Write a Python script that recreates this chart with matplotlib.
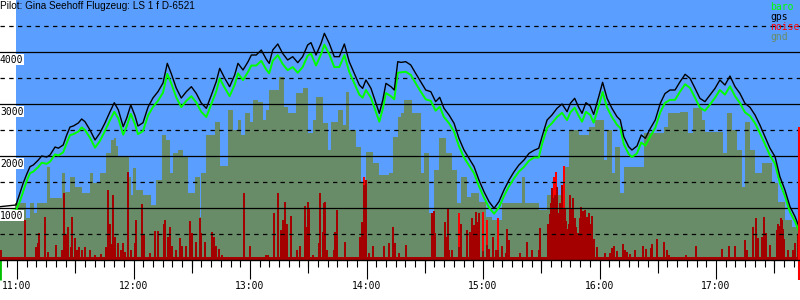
import matplotlib.pyplot as plt

# ---------- DATA (time = minutes after 11:00, altitude in ft) ----------
gps_t = [-8.8, -0.5, 1.5, 3.2, 5.0, 6.7, 8.4, 11.0, 12.7, 15.3,
         17.0, 19.6, 21.3, 23.8, 25.6, 27.3, 29.0, 31.6, 33.3, 35.0,
         37.6, 40.2, 42.7, 45.3, 47.9, 50.1, 52.2, 54.7, 56.5, 58.6,
         60.8, 62.3, 64.9, 67.5, 70.0, 72.6, 75.2, 77.4, 79.4, 82.0,
         84.6, 87.2, 89.8, 92.3, 94.9, 97.5, 100.1, 102.6, 104.4, 107.0,
         109.5, 112.1, 113.8, 116.4, 119.0, 120.7, 123.2, 125.8, 128.4, 129.9,
         131.7, 134.3, 136.8, 139.4, 142.0, 144.6, 147.1, 149.7, 151.4, 154.0,
         156.6, 158.3, 160.8, 163.4, 166.0, 168.6, 171.1, 173.7, 176.3, 178.0,
         179.7, 182.3, 184.9, 186.6, 188.4, 190.0, 192.6, 194.3, 196.1, 197.8,
         200.2, 202.8, 205.3, 207.9, 210.5, 213.1, 215.6, 217.7, 219.9, 222.5,
         225.1, 227.6, 230.2, 232.8, 235.4, 237.9, 240.5, 243.1, 245.7, 248.2,
         250.8, 253.4, 256.0, 258.5, 261.1, 263.7, 266.3, 268.7, 270.4, 273.0,
         275.5, 278.1, 280.7, 283.3, 285.0, 287.2, 289.3, 291.0, 293.0, 295.2,
         297.0, 299.6, 301.6, 303.9, 306.4, 309.0, 310.7, 312.5, 315.0, 316.7,
         319.3, 321.5, 323.6, 326.2, 328.7, 331.3, 333.7, 336.3, 338.9, 341.5,
         344.1, 346.6, 349.2, 351.7, 354.3, 356.9, 359.5, 362.0, 364.6, 367.2,
         369.8, 372.3, 374.9, 377.5, 380.1, 382.6, 385.2, 387.8, 390.4, 392.9,
         395.5, 398.1, 400.7, 402.4]

gps_ft = [1025, 1058, 1288, 1480, 1650, 1795, 1827, 1923, 2000, 1980,
          2019, 2173, 2150, 2212, 2404, 2557, 2577, 2635, 2712, 2660,
          2500, 2308, 2442, 2635, 2852, 3025, 2885, 2564, 2730, 2981,
          2770, 2577, 2640, 2942, 3115, 3237, 3404, 3782, 3590, 3308,
          3115, 3237, 3333, 3205, 3019, 2917, 3173, 3429, 3686, 3494,
          3333, 3558, 3782, 3654, 3814, 3942, 3942, 4038, 3860, 3782,
          4038, 4154, 3974, 3846, 3910, 3795, 3910, 4135, 4180, 3942,
          4166, 4359, 4166, 3910, 3910, 4154, 3814, 3590, 3365, 3301,
          3462, 3301, 3013, 2821, 3077, 3397, 3333, 3269, 3814, 3800,
          3814, 3750, 3590, 3429, 3269, 3237, 3045, 3128, 2917, 2788,
          2628, 2340, 2115, 1955, 1795, 1538, 1314, 1122, 994, 1122,
          1346, 1538, 1698, 1827, 1923, 2051, 2110, 2148, 2372, 2692,
          2788, 2917, 3000, 2852, 3013, 3109, 2936, 2821, 3025, 2962,
          2800, 3141, 3417, 3109, 2917, 2756, 2692, 2372, 2180, 2115,
          2192, 2404, 2340, 2532, 2692, 3013, 3200, 3269, 3269, 3429,
          3571, 3494, 3301, 3109, 3045, 3173, 3301, 3462, 3365, 3538,
          3333, 3205, 3013, 2936, 2788, 2596, 2372, 2148, 1987, 1602,
          1346, 1025, 833, 673]

baro_ft = [925, 955, 1130, 1320, 1520, 1670, 1700, 1790, 1870, 1850,
           1890, 2030, 2010, 2070, 2250, 2400, 2420, 2470, 2550, 2500,
           2350, 2160, 2290, 2480, 2690, 2850, 2720, 2410, 2570, 2810,
           2610, 2420, 2480, 2780, 2940, 3060, 3220, 3580, 3400, 3130,
           2940, 3060, 3150, 3030, 2850, 2750, 3000, 3240, 3490, 3310,
           3150, 3370, 3590, 3460, 3620, 3740, 3740, 3830, 3660, 3590,
           3830, 3940, 3770, 3650, 3710, 3600, 3710, 3930, 3970, 3740,
           3960, 4140, 3960, 3710, 3710, 3940, 3620, 3400, 3180, 3120,
           3270, 3120, 2840, 2660, 2910, 3210, 3150, 3090, 3600, 3610,
           3620, 3560, 3400, 3240, 3090, 3060, 2870, 2950, 2750, 2630,
           2470, 2190, 1970, 1820, 1670, 1420, 1200, 1010, 890, 1010,
           1230, 1420, 1570, 1700, 1790, 1910, 1970, 1970, 2230, 2540,
           2630, 2750, 2830, 2690, 2840, 2930, 2770, 2660, 2850, 2790,
           2640, 2960, 3230, 2930, 2750, 2600, 2540, 2230, 2040, 1980,
           2050, 2260, 2200, 2380, 2540, 2840, 3020, 3080, 3080, 3240,
           3380, 3310, 3120, 2930, 2870, 2990, 3120, 3270, 3180, 3340,
           3150, 3020, 2840, 2770, 2630, 2440, 2230, 2010, 1850, 1480,
           1230, 920, 740, 580]

gnd_t = [-8.8, -1.0, 4.6, 6.7, 8.8, 10.3, 15.5, 17.0, 23.2, 24.7,
         27.3, 29.9, 33.5, 37.6, 39.1, 42.7, 45.8, 48.4, 50.0, 51.0,
         52.0, 54.6, 57.7, 58.7, 59.7, 61.3, 64.9, 69.0, 71.6, 74.7,
         76.7, 78.8, 80.3, 82.9, 85.5, 88.1, 91.7, 94.2, 94.8, 97.3,
         102.0, 104.5, 108.7, 111.2, 113.8, 115.4, 117.4, 120.0, 121.5, 124.1,
         126.7, 128.2, 129.8, 134.9, 137.5, 139.6, 143.7, 147.3, 149.9, 152.4,
         154.0, 157.6, 160.2, 161.7, 165.3, 167.9, 169.4, 171.0, 174.6, 177.2,
         179.7, 183.3, 186.4, 191.6, 193.6, 196.2, 197.8, 199.3, 203.4, 208.1,
         209.6, 212.2, 214.8, 217.3, 220.9, 224.0, 226.6, 228.7, 231.8, 233.8,
         237.9, 241.5, 244.6, 249.8, 260.1, 261.6, 268.8, 273.0, 280.7, 282.2,
         284.3, 289.4, 294.6, 297.7, 302.3, 303.9, 306.4, 308.0, 310.5, 312.6,
         322.9, 333.2, 335.3, 341.5, 345.6, 348.1, 352.8, 354.3, 363.6, 365.7,
         368.2, 370.8, 373.4, 374.9, 377.5, 380.1, 383.7, 388.8, 391.9, 395.5,
         399.1, 403.3]

gnd_ft = [880, 1096, 800, 1096, 900, 1096, 1795, 1192, 1670, 1314,
          1602, 1410, 1282, 1670, 1480, 1670, 2051, 2308, 2340, 2200,
          1987, 2000, 1600, 1250, 1770, 1350, 1250, 1058, 1538, 2404,
          2308, 1670, 2051, 2115, 1987, 1282, 1602, 833, 1670, 2404,
          2660, 1800, 2885, 2500, 2692, 2404, 2820, 2660, 3077, 3045,
          2692, 2885, 3269, 3526, 2950, 2820, 3205, 3301, 2442, 2692,
          3141, 2628, 2115, 2660, 2885, 2600, 3237, 2500, 2180, 1480,
          2083, 1859, 1635, 1670, 2372, 2756, 2820, 3077, 2820, 1670,
          2051, 900, 1730, 2340, 2051, 1730, 1096, 1602, 1217, 1282,
          1122, 833, 769, 1096, 1602, 1096, 962, 1250, 1217, 1795,
          2500, 2404, 2564, 2692, 1923, 2500, 1670, 2180, 1282, 1795,
          2442, 2564, 2820, 2852, 2442, 2917, 2692, 2468, 2051, 2820,
          2500, 2115, 1410, 2660, 2115, 1670, 1859, 1480, 1122, 769,
          640, 640]

noise_t = [-8.2, 1.5, 4.1, 9.8, 10.8, 11.3, 14.4, 16.0, 20.1, 23.2,
           24.2, 25.2, 26.3, 27.8, 28.3, 29.9, 30.9, 31.9, 33.5, 35.0,
           37.6, 40.2, 43.3, 45.8, 46.9, 47.9, 48.9, 49.4, 50.5, 52.0,
           53.6, 54.6, 55.6, 57.2, 58.7, 60.8, 61.3, 64.4, 65.4, 68.5,
           71.1, 72.6, 75.7, 76.2, 77.8, 78.8, 79.8, 81.9, 83.9, 85.0,
           87.0, 89.1, 90.1, 92.2, 94.2, 94.8, 96.8, 100.4, 101.5, 102.5,
           104.0, 105.6, 116.9, 120.0, 128.2, 129.3, 132.4, 134.4, 136.0, 137.0,
           138.0, 139.1, 141.1, 144.2, 145.7, 148.3, 149.4, 149.9, 150.4, 152.4,
           155.5, 156.0, 157.6, 158.1, 158.6, 159.7, 163.3, 163.8, 164.8, 168.9,
           176.7, 177.7, 178.7, 179.7, 181.3, 183.3, 189.0, 191.6, 193.6, 194.7,
           196.7, 200.3, 213.7, 214.8, 215.3, 220.4, 220.9, 222.0, 222.5, 224.0,
           227.6, 228.7, 231.8, 233.3, 234.3, 235.4, 236.4, 237.4, 237.9, 240.0,
           242.1, 243.1, 245.1, 246.7, 247.7, 249.8, 251.8, 252.4, 253.4, 259.0,
           262.7, 265.2, 266.3, 268.8, 269.3, 273.5, 274.0, 274.5, 275.0, 275.5,
           276.0, 276.6, 277.1, 277.6, 278.1, 278.6, 279.1, 279.6, 280.2, 280.7,
           281.2, 281.7, 282.2, 282.7, 283.3, 283.8, 284.3, 284.8, 285.3, 285.8,
           286.3, 286.9, 287.4, 287.9, 288.4, 288.9, 289.4, 289.9, 290.5, 291.0,
           291.5, 292.0, 292.5, 293.0, 293.6, 294.1, 294.6, 295.1, 295.6, 296.1,
           296.6, 297.2, 298.7, 302.8, 305.4, 306.4, 307.5, 309.0, 312.1, 313.1,
           314.2, 315.7, 318.3, 322.4, 323.9, 326.5, 327.0, 329.6, 333.2, 334.8,
           335.8, 344.5, 349.7, 363.1, 366.7, 369.8, 374.9, 376.0, 379.0, 380.6,
           381.6, 383.7, 384.7, 385.7, 387.8, 391.4, 391.9, 392.4, 392.9, 393.5,
           394.0, 394.5, 395.0, 397.1, 399.6, 400.7, 402.2]

noise_ft = [190, 60, 770, 250, 330, 520, 830, 150, 290, 190,
            1280, 500, 640, 250, 830, 420, 200, 250, 200, 250,
            190, 100, 120, 250, 1350, 700, 300, 1250, 450, 330,
            200, 330, 150, 1700, 190, 320, 770, 1080, 480, 130,
            560, 550, 690, 770, 450, 640, 260, 190, 420, 260,
            260, 750, 510, 350, 800, 510, 350, 540, 450, 260,
            220, 100, 1280, 270, 100, 100, 900, 1280, 580, 770,
            1120, 690, 850, 200, 270, 1030, 630, 1120, 990, 100,
            320, 1290, 540, 1090, 1120, 190, 190, 540, 960, 350,
            450, 740, 1450, 1540, 130, 270, 260, 330, 640, 320,
            130, 290, 910, 940, 510, 740, 440, 980, 190, 190,
            250, 700, 580, 540, 800, 670, 930, 740, 900, 180,
            290, 220, 450, 190, 200, 260, 130, 590, 380, 130,
            350, 190, 60, 190, 610, 700, 450, 880, 1100, 1380,
            1200, 1000, 1250, 1100, 1400, 900, 700, 1100, 860, 1450,
            700, 1000, 1000, 750, 600, 480, 700, 1250, 1000, 600,
            1200, 500, 800, 640, 450, 520, 450, 800, 1010, 600,
            950, 580, 960, 500, 830, 580, 900, 700, 500, 850,
            400, 400, 250, 130, 140, 240, 260, 180, 300, 200,
            150, 120, 200, 260, 220, 230, 300, 400, 350, 200,
            100, 100, 260, 220, 270, 260, 380, 190, 630, 800,
            420, 450, 820, 510, 290, 580, 700, 500, 650, 800,
            760, 600, 400, 190, 190, 320, 480]

peak_t = [178.7, 227.6, 240.0, 242.1, 247.7, 276.6, 277.6, 281.7]
peak_ft = [1600, 910, 920, 770, 800, 1600, 1700, 1800]

noise_floor = 50
end_marker_ft = 2560

hour_ticks = [0, 60, 120, 180, 240, 300, 360]
hour_labels = ["11:00", "12:00", "13:00", "14:00", "15:00", "16:00", "17:00"]
alt_labels = [1000, 2000, 3000, 4000]

title = "Pilot: Gina Seehoff Flugzeug: LS 1 f D-6521"

# ---------- STYLE ----------
sky = "#5a9fff"
gnd_col = "#678c67"
dark_red = "#a50000"
mono = "DejaVu Sans Mono"

fig = plt.figure(figsize=(8, 3), dpi=100)
ax = fig.add_axes([0, 40 / 300, 1, 260 / 300])
xmin, xmax = -17 / 1.9417, 783 / 1.9417
ax.set_xlim(xmin, xmax)
ax.set_ylim(0, 5000)
ax.set_facecolor("white")

ax.axvspan(gps_t[1], xmax, color=sky, lw=0, zorder=0)
ax.fill_between(gnd_t, 0, gnd_ft, step="post", color=gnd_col, lw=0, zorder=1)

ax.bar(peak_t, peak_ft, width=0.9, color="#ff0000", lw=0, zorder=2)
ax.bar(noise_t, noise_ft, width=0.9, color=dark_red, lw=0, zorder=3)
ax.fill_between([gps_t[0], gps_t[-1]], 0, noise_floor, color=dark_red, lw=0, zorder=3)

# grid
for v in range(500, 5000, 500):
    if v % 1000 == 0:
        ax.axhline(v, color="black", lw=0.9, zorder=4)
    else:
        ax.axhline(v, color="black", lw=0.9, dashes=(3.5, 3.5), zorder=4)

ax.plot(gps_t, baro_ft, color="#00ff00", lw=1.4, zorder=5)
ax.plot(gps_t, gps_ft, color="black", lw=1.0, zorder=6)

# start / end markers
ax.vlines(gps_t[0], -20 * 5000 / 260, 0, color="#00c000", lw=2, clip_on=False, zorder=7)
ax.vlines(gps_t[-1] + 0.3, -20 * 5000 / 260, end_marker_ft, color="#ff0000", lw=1.5,
          clip_on=False, zorder=7)

# altitude labels
for v in alt_labels:
    ax.text(0.0, v - 145, str(v), transform=ax.get_yaxis_transform(), ha="left",
            va="center", fontsize=7, family=mono, zorder=8,
            bbox=dict(boxstyle="square,pad=0.05", fc="white", ec="none"))

# ticks
for s in ["top", "left", "right"]:
    ax.spines[s].set_visible(False)
ax.spines["bottom"].set_linewidth(1.0)
ax.spines["bottom"].set_zorder(8)
ax.set_yticks([])
ax.set_xticks(hour_ticks)
ax.set_xticklabels(hour_labels, family=mono, fontsize=7)
ax.set_xticks(range(-5, 405, 5), minor=True)
ax.tick_params(axis="x", which="major", length=13.7, width=0.8, pad=1.5)
ax.tick_params(axis="x", which="minor", length=5, width=0.8)
ax.vlines(range(-30, 405, 60), -13 / 260, 0, transform=ax.get_xaxis_transform(),
          color="black", lw=0.8, clip_on=False)

# title and legend
fig.text(0.0, 1 - 6 / 300, title, ha="left", va="center", fontsize=7.2,
         family="Liberation Sans")
legend = [("baro", "#00ff00"), ("gps", "black"), ("noise", "#ff0000"), ("gnd", gnd_col)]
for i, (name, col) in enumerate(legend):
    fig.text(770 / 800, 1 - (7 + 10 * i) / 300, name, ha="left", va="center",
             fontsize=7, family=mono, color=col)

fig.savefig("out.png", dpi=100)
